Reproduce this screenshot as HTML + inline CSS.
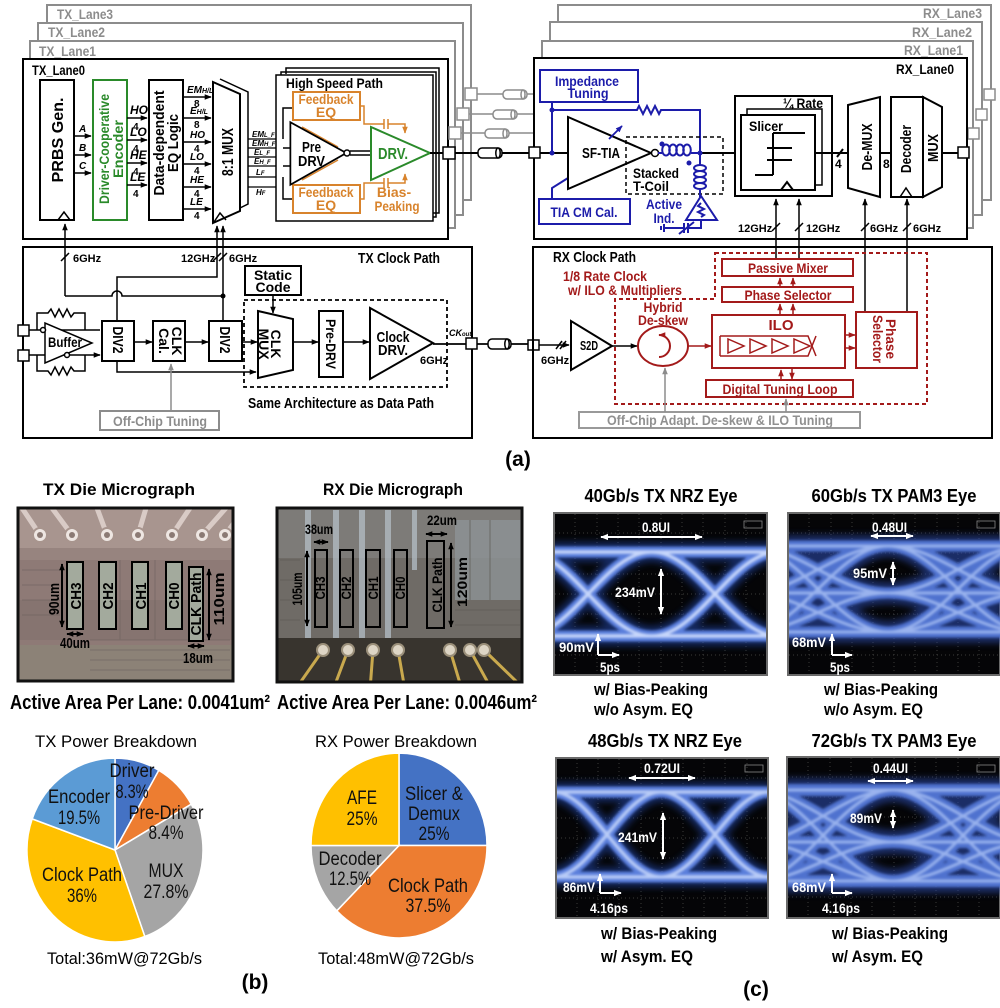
<!DOCTYPE html>
<html><head><meta charset="utf-8"><title>fig</title>
<style>
html,body{margin:0;padding:0;background:#fff;width:1000px;height:1008px;overflow:hidden}
svg{display:block}
text{font-family:"Liberation Sans",Arial,sans-serif;font-weight:bold}
.n,.n text{font-weight:normal}
.i{font-style:italic}
</style></head><body>
<svg width="1000" height="1008" viewBox="0 0 1000 1008" xmlns="http://www.w3.org/2000/svg" xmlns:xlink="http://www.w3.org/1999/xlink">
<defs>
<marker id="ak" viewBox="0 0 10 10" refX="9" refY="5" markerWidth="7" markerHeight="7" markerUnits="userSpaceOnUse" orient="auto-start-reverse"><path d="M0,1L10,5L0,9z" fill="#000"/></marker>
<marker id="ar" viewBox="0 0 10 10" refX="9" refY="5" markerWidth="7" markerHeight="7" markerUnits="userSpaceOnUse" orient="auto-start-reverse"><path d="M0,1L10,5L0,9z" fill="#a31a1a"/></marker>
<marker id="ag" viewBox="0 0 10 10" refX="9" refY="5" markerWidth="7" markerHeight="7" markerUnits="userSpaceOnUse" orient="auto-start-reverse"><path d="M0,1L10,5L0,9z" fill="#8c8c8c"/></marker>
<marker id="ab" viewBox="0 0 10 10" refX="9" refY="5" markerWidth="7" markerHeight="7" markerUnits="userSpaceOnUse" orient="auto-start-reverse"><path d="M0,1L10,5L0,9z" fill="#1c1caa"/></marker>
<marker id="ao" viewBox="0 0 10 10" refX="9" refY="5" markerWidth="7" markerHeight="7" markerUnits="userSpaceOnUse" orient="auto-start-reverse"><path d="M0,1L10,5L0,9z" fill="#d8832c"/></marker>
<marker id="aw" viewBox="0 0 10 10" refX="9" refY="5" markerWidth="8" markerHeight="8" markerUnits="userSpaceOnUse" orient="auto-start-reverse"><path d="M0,1L10,5L0,9z" fill="#fff"/></marker>
<filter id="b3" filterUnits="userSpaceOnUse" x="0" y="0" width="1000" height="1008"><feGaussianBlur stdDeviation="3.5"/></filter>
<filter id="b1" filterUnits="userSpaceOnUse" x="0" y="0" width="1000" height="1008"><feGaussianBlur stdDeviation="1.3"/></filter>
<clipPath id="ce1"><rect x="555" y="514" width="211" height="160"/></clipPath>
<clipPath id="ce2"><rect x="789" y="514" width="211" height="160"/></clipPath>
<clipPath id="ce3"><rect x="557" y="759" width="210" height="158"/></clipPath>
<clipPath id="ce4"><rect x="788" y="758" width="212" height="159"/></clipPath>
<clipPath id="ctx"><rect x="18" y="508" width="215" height="173"/></clipPath>
<clipPath id="crx"><rect x="277" y="508" width="245" height="174"/></clipPath>
<path id="p1" d="M550,552H770M550,636H770M525,552C571,552 605,636 651,636M525,636C571,636 605,552 651,552M652,552C698,552 732,636 778,636M652,636C698,636 732,552 778,552"/>
<path id="p3" d="M550,792H770M550,877H770M553,792C592,792 622,877 661,877M553,877C592,877 622,792 661,792M661,792C700,792 730,877 769,877M661,877C700,877 730,792 769,792"/>
<path id="p2" d="M785,546H1003M785,593H1003M785,632H1003M748,546C799,546 837,593 888,593M748,593C799,593 837,546 888,546M748,593C799,593 837,632 888,632M748,632C799,632 837,593 888,593M748,546C799,546 837,632 888,632M748,632C799,632 837,546 888,546M888,546C939,546 977,593 1028,593M888,593C939,593 977,546 1028,546M888,593C939,593 977,632 1028,632M888,632C939,632 977,593 1028,593M888,546C939,546 977,632 1028,632M888,632C939,632 977,546 1028,546"/>
<path id="p4" d="M785,790H1003M785,842H1003M785,881H1003M753,790C804,790 842,842 893,842M753,842C804,842 842,790 893,790M753,842C804,842 842,881 893,881M753,881C804,881 842,842 893,842M753,790C804,790 842,881 893,881M753,881C804,881 842,790 893,790M893,790C944,790 982,842 1033,842M893,842C944,842 982,790 1033,790M893,842C944,842 982,881 1033,881M893,881C944,881 982,842 1033,842M893,790C944,790 982,881 1033,881M893,881C944,881 982,790 1033,790"/>
</defs>

<!-- ================= TX LANES ================= -->
<g fill="none" stroke="#8c8c8c" stroke-width="2">
<path d="M47,24V5H471V200H463"/>
<path d="M38,42V23H463V215H455"/>
<path d="M30,59V41H455V228H448"/>
</g>
<g fill="#8c8c8c" font-size="14">
<text x="57" y="19" textLength="56" lengthAdjust="spacingAndGlyphs">TX_Lane3</text>
<text x="48" y="37" textLength="57" lengthAdjust="spacingAndGlyphs">TX_Lane2</text>
<text x="39" y="56" textLength="57" lengthAdjust="spacingAndGlyphs">TX_Lane1</text>
</g>
<rect x="23" y="59" width="425" height="180" fill="#fff" stroke="#000" stroke-width="2"/>
<text x="32" y="75" font-size="14" textLength="53" lengthAdjust="spacingAndGlyphs">TX_Lane0</text>

<!-- PRBS -->
<rect x="40" y="80" width="34" height="140" fill="#fff" stroke="#000" stroke-width="2"/>
<path d="M58,220L64,212L70,220" fill="none" stroke="#000" stroke-width="1.5"/>
<text transform="translate(63,140) rotate(-90)" text-anchor="middle" font-size="16" textLength="85" lengthAdjust="spacingAndGlyphs">PRBS Gen.</text>
<g stroke="#000" stroke-width="1.5" marker-end="url(#ak)"><path d="M74,136H91"/><path d="M74,155H91"/><path d="M74,173H91"/></g>
<g font-size="10" class="i"><text x="79" y="132">A</text><text x="79" y="151">B</text><text x="79" y="169">C</text></g>

<!-- Encoder -->
<rect x="93" y="80" width="34" height="140" fill="#fff" stroke="#2a8a2a" stroke-width="2"/>
<text transform="translate(109,149) rotate(-90)" text-anchor="middle" font-size="14" fill="#2a8a2a"><tspan x="0" y="0" textLength="110" lengthAdjust="spacingAndGlyphs">Driver-Cooperative</tspan><tspan x="0" y="14" textLength="58" lengthAdjust="spacingAndGlyphs">Encoder</tspan></text>
<g stroke="#000" stroke-width="1.5" marker-end="url(#ak)"><path d="M127,118H147"/><path d="M127,140H147"/><path d="M127,163H147"/><path d="M127,185H147"/></g>
<g font-size="12" class="i"><text x="130" y="114">HO</text><text x="130" y="136">LO</text><text x="130" y="159">HE</text><text x="130" y="181">LE</text></g>
<g font-size="10"><text x="133" y="130">4</text><text x="133" y="152">4</text><text x="133" y="175">4</text><text x="133" y="197">4</text></g>

<!-- EQ logic -->
<rect x="149" y="80" width="34" height="140" fill="#fff" stroke="#000" stroke-width="2"/>
<text transform="translate(164,143) rotate(-90)" text-anchor="middle" font-size="15"><tspan x="0" y="0" textLength="105" lengthAdjust="spacingAndGlyphs">Data-dependent</tspan><tspan x="0" y="14" textLength="58" lengthAdjust="spacingAndGlyphs">EQ Logic</tspan></text>
<g stroke="#000" stroke-width="1.5" marker-end="url(#ak)"><path d="M183,97H211"/><path d="M183,118H211"/><path d="M183,142H211"/><path d="M183,164H211"/><path d="M183,187H211"/><path d="M183,209H211"/></g>
<g font-size="10" class="i"><text x="187" y="93">EM<tspan font-size="7">H/L</tspan></text><text x="190" y="114">E<tspan font-size="7">H/L</tspan></text><text x="190" y="138">HO</text><text x="190" y="160">LO</text><text x="190" y="183">HE</text><text x="190" y="205">LE</text></g>
<g font-size="10"><text x="194" y="107">8</text><text x="194" y="128">8</text><text x="194" y="152">4</text><text x="194" y="174">4</text><text x="194" y="197">4</text><text x="194" y="219">4</text></g>

<!-- MUX -->
<path d="M220,79L248,92V204L240,208" fill="none" stroke="#000" stroke-width="1.5"/>
<polygon points="213,82 240,94 240,211 213,223" fill="#fff" stroke="#000" stroke-width="2"/>
<path d="M214,222L220,213L226,220" fill="none" stroke="#000" stroke-width="1.5"/>
<text transform="translate(233,152) rotate(-90)" text-anchor="middle" font-size="16" textLength="48" lengthAdjust="spacingAndGlyphs">8:1 MUX</text>
<g stroke="#000" stroke-width="1.3"><path d="M248,139H292"/><path d="M248,148H292"/><path d="M248,157H292"/><path d="M248,166H292"/><path d="M248,177H292"/><path d="M248,187H283"/></g>
<g font-size="8" class="i"><text x="252" y="137">EM<tspan font-size="6">L_F</tspan></text><text x="252" y="146">EM<tspan font-size="6">H_F</tspan></text><text x="254" y="155">E<tspan font-size="6">L_F</tspan></text><text x="254" y="164">E<tspan font-size="6">H_F</tspan></text><text x="256" y="175">L<tspan font-size="6">F</tspan></text><text x="256" y="195">H<tspan font-size="6">F</tspan></text></g>

<!-- High speed path -->
<path d="M286,74V68H439V213H433" fill="none" stroke="#000" stroke-width="1.5"/>
<path d="M281,75V72H436V217H433" fill="none" stroke="#000" stroke-width="1.5"/>
<rect x="276" y="75" width="157" height="146" fill="#fff" stroke="#000" stroke-width="1.5"/>
<text x="286" y="88" font-size="14" textLength="97" lengthAdjust="spacingAndGlyphs">High Speed Path</text>
<g stroke="#000" stroke-width="1.5" fill="none"><path d="M293,108H283V139"/><path d="M293,199H283V177"/><path d="M283,148H292M283,166H292"/></g>
<g fill="#fff" stroke="#d8832c" stroke-width="2"><rect x="293" y="92" width="67" height="28"/><rect x="293" y="185" width="67" height="28"/></g>
<g fill="#d8832c" font-size="14" text-anchor="middle"><text x="326" y="104" textLength="55" lengthAdjust="spacingAndGlyphs">Feedback</text><text x="326" y="117">EQ</text><text x="326" y="197" textLength="55" lengthAdjust="spacingAndGlyphs">Feedback</text><text x="326" y="210">EQ</text></g>
<g fill="none" stroke="#d8832c" stroke-width="1.5"><path d="M360,106H364V124H384M384,119V129M388,119V129M388,124H405V133" marker-end="url(#ao)"/><path d="M360,199H364V183H384M384,178V188M388,178V188M388,183H405V174" marker-end="url(#ao)"/><path d="M302,127L338,147M302,180L338,160"/></g>
<polygon points="292,125 292,182 343,153" fill="#fff" stroke="#000" stroke-width="5"/>
<polygon points="292,125 292,182 343,153" fill="#fff" stroke="#fff" stroke-width="1.5"/>
<circle cx="347" cy="153" r="3" fill="#fff" stroke="#000" stroke-width="1.5"/>
<g font-size="15"><text x="302" y="152" textLength="19" lengthAdjust="spacingAndGlyphs">Pre</text><text x="298" y="166" textLength="27" lengthAdjust="spacingAndGlyphs">DRV</text></g>
<path d="M350,151H371M350,155H371" stroke="#000" stroke-width="1.5"/>
<polygon points="371,127 371,180 430,153" fill="#fff" stroke="#2a8a2a" stroke-width="2"/>
<text x="378" y="159" font-size="16" fill="#2a8a2a" textLength="30" lengthAdjust="spacingAndGlyphs">DRV.</text>
<g fill="#d8832c" font-size="14" text-anchor="middle"><text x="394" y="197">Bias-</text><text x="397" y="211" textLength="45" lengthAdjust="spacingAndGlyphs">Peaking</text></g>

<!-- TX->RX data link -->
<path d="M430,153H443M455,153H529" stroke="#000" stroke-width="2"/>
<g stroke="#8c8c8c" stroke-width="1.5" fill="#fff">
<path d="M477,94H534M469,114H534M461,133H534" fill="none"/>
<rect x="465" y="88" width="12" height="12"/><rect x="457" y="108" width="12" height="12"/><rect x="449" y="127" width="12" height="12"/>
<rect x="503" y="90" width="24" height="9" rx="4"/><ellipse cx="523" cy="94.5" rx="2" ry="4.5"/>
<rect x="493" y="110" width="24" height="9" rx="4"/><ellipse cx="513" cy="114.5" rx="2" ry="4.5"/>
<rect x="485" y="129" width="24" height="9" rx="4"/><ellipse cx="505" cy="133.5" rx="2" ry="4.5"/>
</g>
<g stroke="#000" stroke-width="1.5" fill="#fff"><rect x="443" y="147" width="12" height="12"/><rect x="478" y="148" width="24" height="10" rx="4"/><ellipse cx="498" cy="153" rx="2.2" ry="5"/></g>

<!-- ================= TX CLOCK ================= -->
<rect x="23" y="247" width="449" height="191" fill="none" stroke="#000" stroke-width="2"/>
<text x="358" y="263" font-size="15" textLength="82" lengthAdjust="spacingAndGlyphs">TX Clock Path</text>
<g fill="none" stroke="#000" stroke-width="1.5">
<path d="M65,296V224" marker-end="url(#ak)"/>
<path d="M117,321V277H217V226" marker-end="url(#ak)"/>
<path d="M223,321V226" marker-end="url(#ak)"/>
<path d="M65,296H112A5,5 0 0 1 122,296H223"/>
<path d="M61,261L69,253M213,261L221,253M219,261L227,253"/>
</g>
<circle cx="223" cy="296" r="2.5"/>
<g font-size="11"><text x="73" y="262">6GHz</text><text x="181" y="262">12GHz</text><text x="229" y="262">6GHz</text></g>
<!-- buffer -->
<g fill="#fff" stroke="#000" stroke-width="1.5">
<path d="M29,330H100M29,355H100" fill="none" marker-end="url(#ak)"/>
<path d="M37,330V313H48l3,-4 4,8 4,-8 4,8 4,-8 4,8 3,-4H85V330" fill="none"/>
<path d="M37,355V371H48l3,4 4,-8 4,8 4,-8 4,8 4,-8 3,4H85V355" fill="none"/>
<rect x="18" y="325" width="11" height="11"/><rect x="18" y="350" width="11" height="11"/>
<polygon points="45,323 45,363 92,343"/>
<circle cx="43" cy="330" r="2.5"/><circle cx="67" cy="355" r="2.5"/>
</g>
<text x="48" y="347" font-size="14" textLength="34" lengthAdjust="spacingAndGlyphs">Buffer</text>
<!-- div / cal -->
<g fill="#fff" stroke="#000" stroke-width="2">
<rect x="102" y="321" width="32" height="40"/><rect x="153" y="321" width="32" height="40"/><rect x="209" y="321" width="33" height="40"/>
<rect x="245" y="266" width="56" height="29"/>
<polygon points="258,311 293,319 293,370 258,378"/>
<rect x="319" y="311" width="24" height="66"/>
<polygon points="370,308 370,379 433,343"/>
</g>
<g font-size="15">
<text transform="translate(113,340) rotate(90)" text-anchor="middle" textLength="27" lengthAdjust="spacingAndGlyphs">DIV2</text>
<text transform="translate(220,340) rotate(90)" text-anchor="middle" textLength="27" lengthAdjust="spacingAndGlyphs">DIV2</text>
<text transform="translate(172,341) rotate(90)" text-anchor="middle" font-size="14"><tspan x="0" y="0">CLK</tspan><tspan x="0" y="13">Cal.</tspan></text>
<text transform="translate(271,344) rotate(90)" text-anchor="middle" font-size="14"><tspan x="0" y="0">CLK</tspan><tspan x="0" y="12">MUX</tspan></text>
<text transform="translate(326,344) rotate(90)" text-anchor="middle" font-size="14" textLength="50" lengthAdjust="spacingAndGlyphs">Pre-DRV</text>
<text x="273" y="280" text-anchor="middle" font-size="14">Static</text><text x="273" y="292" text-anchor="middle" font-size="14">Code</text>
<text x="393" y="342" text-anchor="middle" textLength="33" lengthAdjust="spacingAndGlyphs">Clock</text><text x="393" y="355" text-anchor="middle" textLength="30" lengthAdjust="spacingAndGlyphs">DRV.</text>
</g>
<text x="420" y="364" font-size="11">6GHz</text>
<g fill="none" stroke="#000" stroke-width="1.5" marker-end="url(#ak)">
<path d="M134,342H152"/><path d="M185,342H208"/><path d="M242,342H257"/><path d="M293,342H318"/><path d="M343,342H369"/><path d="M273,295V313"/><path d="M117,361V372H256"/>
</g>
<rect x="244" y="300" width="203" height="87" fill="none" stroke="#000" stroke-width="1.8" stroke-dasharray="4,3"/>
<text x="341" y="408" text-anchor="middle" font-size="15" textLength="186" lengthAdjust="spacingAndGlyphs">Same Architecture as Data Path</text>
<rect x="100" y="411" width="119" height="19" fill="#fff" stroke="#8c8c8c" stroke-width="2"/>
<text x="160" y="426" text-anchor="middle" font-size="14" fill="#8c8c8c" textLength="94" lengthAdjust="spacingAndGlyphs">Off-Chip Tuning</text>
<path d="M171,411V364" stroke="#8c8c8c" stroke-width="1.5" marker-end="url(#ag)"/>
<!-- clock out -->
<text x="449" y="336" font-size="9" class="i">CK<tspan font-size="6">out</tspan></text>
<path d="M433,344H466M477,344H528" stroke="#000" stroke-width="1.8"/>
<g stroke="#000" stroke-width="1.5" fill="#fff"><rect x="466" y="338" width="11" height="11"/><rect x="488" y="339" width="23" height="10" rx="4"/><ellipse cx="507" cy="344" rx="2.2" ry="5"/><rect x="528" y="340" width="11" height="10"/></g>

<!-- ================= RX LANES ================= -->
<g fill="none" stroke="#8c8c8c" stroke-width="2">
<path d="M558,22V5H991V200H982"/>
<path d="M550,41V22H982V215H973"/>
<path d="M542,58V41H973V228H967"/>
</g>
<g fill="#8c8c8c" font-size="14" text-anchor="end">
<text x="982" y="18" textLength="59" lengthAdjust="spacingAndGlyphs">RX_Lane3</text>
<text x="972" y="37" textLength="60" lengthAdjust="spacingAndGlyphs">RX_Lane2</text>
<text x="963" y="55" textLength="59" lengthAdjust="spacingAndGlyphs">RX_Lane1</text>
</g>
<g fill="#fff" stroke="#8c8c8c" stroke-width="1.5"><rect x="984" y="89" width="11" height="11"/><rect x="976" y="109" width="11" height="11"/><rect x="968" y="128" width="11" height="11"/></g>
<rect x="534" y="58" width="433" height="181" fill="#fff" stroke="#000" stroke-width="2"/>
<text x="954" y="74" font-size="14" text-anchor="end" textLength="58" lengthAdjust="spacingAndGlyphs">RX_Lane0</text>
<rect x="529" y="147" width="11" height="11" fill="#fff" stroke="#000" stroke-width="1.5"/>
<path d="M540,153H568" stroke="#000" stroke-width="2"/>
<!-- impedance / TIA -->
<g fill="none" stroke="#1c1caa" stroke-width="2">
<rect x="540" y="70" width="98" height="32" fill="#fff"/>
<rect x="539" y="199" width="91" height="25" fill="#fff"/>
<path d="M552,102V153"/>
<path d="M552,110H637l2,-4 4,8 4,-8 4,8 4,-8 4,8 2,-4H700V153"/>
<path d="M552,199V188L568,178"/>
</g>
<circle cx="552" cy="110" r="2.5" fill="#1c1caa"/><circle cx="552" cy="153" r="2.5" fill="#1c1caa"/>
<g fill="#1c1caa" font-size="14" text-anchor="middle"><text x="587" y="86" textLength="64" lengthAdjust="spacingAndGlyphs">Impedance</text><text x="588" y="98" textLength="41" lengthAdjust="spacingAndGlyphs">Tuning</text><text x="584" y="217" textLength="67" lengthAdjust="spacingAndGlyphs">TIA CM Cal.</text></g>
<polygon points="568,117 568,189 651,153" fill="#fff" stroke="#000" stroke-width="2"/>
<circle cx="655" cy="153" r="3.5" fill="#fff" stroke="#000" stroke-width="1.5"/>
<text x="582" y="158" font-size="15" textLength="38" lengthAdjust="spacingAndGlyphs">SF-TIA</text>
<path d="M609,139L622,126" stroke="#1c1caa" stroke-width="1.8" marker-end="url(#ab)"/>
<!-- t-coil -->
<rect x="626" y="137" width="97" height="57" fill="none" stroke="#000" stroke-width="1.5" stroke-dasharray="4,3"/>
<g fill="none" stroke="#1c1caa" stroke-width="2">
<path d="M658,153H662M691,153H735"/>
<ellipse cx="666" cy="150" rx="3.8" ry="5.5"/><ellipse cx="673" cy="150" rx="3.8" ry="5.5"/><ellipse cx="680" cy="150" rx="3.8" ry="5.5"/><ellipse cx="687" cy="150" rx="3.8" ry="5.5"/>
<path d="M700,153V165M700,190V197"/>
<ellipse cx="700" cy="168" rx="6" ry="3"/><ellipse cx="700" cy="174" rx="6" ry="3"/><ellipse cx="700" cy="180" rx="6" ry="3"/><ellipse cx="700" cy="186" rx="6" ry="3"/>
<polygon points="701,196 686,220 717,220"/>
<path d="M701,203l-3,3 6,3 -6,3 6,3 -3,2"/>
<path d="M664,228H684M684,223V233M688,223V233M688,228H701V220M679,234L694,222M664,224V232M661,226V230"/>
</g>
<path d="M700,153H735" stroke="#000" stroke-width="2"/>
<circle cx="700" cy="153" r="2.5" fill="#1c1caa"/><circle cx="662" cy="144" r="2.5" fill="#1c1caa"/><circle cx="689" cy="163" r="2.5" fill="#1c1caa"/>
<g font-size="14"><text x="633" y="178" textLength="46" lengthAdjust="spacingAndGlyphs">Stacked</text><text x="633" y="191" textLength="36" lengthAdjust="spacingAndGlyphs">T-Coil</text></g>
<g fill="#1c1caa" font-size="14" text-anchor="middle"><text x="664" y="209" textLength="36" lengthAdjust="spacingAndGlyphs">Active</text><text x="664" y="223" textLength="21" lengthAdjust="spacingAndGlyphs">Ind.</text></g>
<!-- slicer -->
<rect x="735" y="96" width="97" height="100" fill="#fff" stroke="#000" stroke-width="2"/>
<rect x="747" y="109" width="75" height="76" fill="#fff" stroke="#000" stroke-width="1.5"/>
<rect x="741" y="115" width="74" height="75" fill="#fff" stroke="#000" stroke-width="2"/>
<text x="783" y="108" font-size="14" textLength="40" lengthAdjust="spacingAndGlyphs">¼ Rate</text>
<text x="749" y="131" font-size="14" textLength="34" lengthAdjust="spacingAndGlyphs">Slicer</text>
<path d="M773,133V175M773,133H805M767,148H792M767,160H792M755,175H773M781,190L787,182L793,190" fill="none" stroke="#000" stroke-width="2"/>
<path d="M815,153H848M880,153H891M942,153H958M837,157L843,149" stroke="#000" stroke-width="2" fill="none"/>
<g font-size="12"><text x="835" y="168">4</text><text x="883" y="168">8</text></g>
<g fill="#fff" stroke="#000" stroke-width="2">
<polygon points="848,105 880,97 880,197 848,188"/>
<rect x="891" y="97" width="32" height="100"/>
<polygon points="923,97 942,107 942,187 923,197"/>
</g>
<path d="M900,197L906,188L912,197" fill="none" stroke="#000" stroke-width="1.5"/>
<rect x="958" y="147" width="11" height="11" fill="#fff" stroke="#000" stroke-width="1.5"/>
<g font-size="15" text-anchor="middle">
<text transform="translate(872,147) rotate(-90)" textLength="47" lengthAdjust="spacingAndGlyphs">De-MUX</text>
<text transform="translate(911,149) rotate(-90)" textLength="48" lengthAdjust="spacingAndGlyphs">Decoder</text>
<text transform="translate(938,148) rotate(-90)" textLength="28" lengthAdjust="spacingAndGlyphs">MUX</text>
</g>
<!-- RX clock lines up -->
<g fill="none" stroke="#000" stroke-width="1.5">
<path d="M776,259V199" marker-end="url(#ak)"/><path d="M799,259V199" marker-end="url(#ak)"/>
<path d="M865,311V199" marker-end="url(#ak)"/><path d="M907,311V199" marker-end="url(#ak)"/>
<path d="M772,231L780,223M795,231L803,223M861,231L869,223M903,231L911,223"/>
</g>
<g font-size="11"><text x="738" y="232">12GHz</text><text x="806" y="232">12GHz</text><text x="870" y="232">6GHz</text><text x="913" y="232">6GHz</text></g>

<!-- ================= RX CLOCK ================= -->
<rect x="533" y="247" width="459" height="191" fill="none" stroke="#000" stroke-width="2"/>
<text x="553" y="262" font-size="15" textLength="83" lengthAdjust="spacingAndGlyphs">RX Clock Path</text>
<g fill="#a31a1a" font-size="14"><text x="563" y="281" textLength="84" lengthAdjust="spacingAndGlyphs">1/8 Rate Clock</text><text x="568" y="295" textLength="114" lengthAdjust="spacingAndGlyphs">w/ ILO &amp; Multipliers</text></g>
<path d="M715,253H927V404H615V299H715Z" fill="none" stroke="#a31a1a" stroke-width="2" stroke-dasharray="4,3"/>
<g fill="#fff" stroke="#a31a1a" stroke-width="2">
<rect x="722" y="259" width="131" height="17"/>
<rect x="722" y="287" width="131" height="15"/>
<rect x="712" y="315" width="133" height="53"/>
<rect x="856" y="312" width="61" height="56"/>
<rect x="706" y="380" width="147" height="17"/>
<ellipse cx="663" cy="346" rx="25" ry="20"/>
</g>
<g fill="#a31a1a" font-size="14" text-anchor="middle">
<text x="788" y="273" textLength="80" lengthAdjust="spacingAndGlyphs">Passive Mixer</text>
<text x="788" y="300" textLength="87" lengthAdjust="spacingAndGlyphs">Phase Selector</text>
<text x="781" y="330" font-size="15">ILO</text>
<text x="780" y="394" textLength="115" lengthAdjust="spacingAndGlyphs">Digital Tuning Loop</text>
<text x="663" y="312" textLength="39" lengthAdjust="spacingAndGlyphs">Hybrid</text>
<text x="663" y="325" textLength="50" lengthAdjust="spacingAndGlyphs">De-skew</text>
<text transform="translate(886,339) rotate(90)"><tspan x="0" y="0" textLength="40" lengthAdjust="spacingAndGlyphs">Phase</tspan><tspan x="0" y="13" textLength="48" lengthAdjust="spacingAndGlyphs">Selector</tspan></text>
</g>
<g fill="none" stroke="#a31a1a" stroke-width="1.5">
<path d="M780,287V278" marker-end="url(#ar)"/><path d="M793,287V278" marker-end="url(#ar)"/>
<path d="M780,315V304" marker-end="url(#ar)"/><path d="M793,315V304" marker-end="url(#ar)"/>
<path d="M845,335H855" marker-end="url(#ar)"/><path d="M845,348H855" marker-end="url(#ar)"/>
<path d="M781,380V370" marker-end="url(#ar)"/><path d="M792,369V379" marker-end="url(#ar)"/>
<path d="M688,346H711" marker-end="url(#ar)"/>
<path d="M659,357A11,11 0 1 0 659,335" marker-end="url(#ar)" stroke-width="2"/>
<path d="M720,336H808L816,356M720,356H808L816,336M720,336V356"/>
<path d="M728,339V353L744,346ZM750,339V353L766,346ZM772,339V353L788,346ZM794,339V353L810,346Z" fill="#fff"/>
</g>
<rect x="579" y="412" width="281" height="16" fill="#fff" stroke="#999" stroke-width="2"/>
<text x="720" y="425" text-anchor="middle" font-size="14" fill="#909090" textLength="226" lengthAdjust="spacingAndGlyphs">Off-Chip Adapt. De-skew &amp; ILO Tuning</text>
<g stroke="#8c8c8c" stroke-width="1.5"><path d="M665,412V368" marker-end="url(#ag)"/><path d="M786,412V399" marker-end="url(#ag)"/></g>
<g fill="none" stroke="#000" stroke-width="1.5">
<path d="M539,345H569" marker-end="url(#ak)"/><path d="M556,349L562,341M560,349L566,341"/>
<polygon points="571,321 571,370 612,346" fill="#fff" stroke-width="2"/>
<path d="M612,346H637" marker-end="url(#ak)"/>
</g>
<text x="589" y="350" text-anchor="middle" font-size="13" textLength="18" lengthAdjust="spacingAndGlyphs">S2D</text>
<text x="541" y="364" font-size="11">6GHz</text>
<text x="518" y="466" text-anchor="middle" font-size="21">(a)</text>

<!-- ================= PANEL B ================= -->
<text x="119" y="495" text-anchor="middle" font-size="17" textLength="152" lengthAdjust="spacingAndGlyphs">TX Die Micrograph</text>
<text x="393" y="495" text-anchor="middle" font-size="17" textLength="140" lengthAdjust="spacingAndGlyphs">RX Die Micrograph</text>
<!-- TX photo -->
<g clip-path="url(#ctx)">
<rect x="18" y="508" width="215" height="173" fill="#8e7a76"/>
<rect x="18" y="508" width="215" height="40" fill="#a8958f"/>
<rect x="18" y="548" width="215" height="12" fill="#97847f"/>
<rect x="18" y="600" width="215" height="40" fill="#80706d" opacity="0.6"/>
<rect x="18" y="645" width="215" height="36" fill="#8c8578" opacity="0.8"/>
<g stroke="#6e625f" stroke-width="1" opacity="0.6"><path d="M22,570H60M22,585H60M22,600H60M22,615H60M90,640H230M90,650H230M90,660H230M90,670H230M120,560V640M155,560V640"/></g>
<g stroke="#d9cbc6" stroke-width="5" stroke-linecap="round"><path d="M40,535L22,508M72,535L52,508M107,535L97,508M138,535L146,508M172,535L190,508M202,535L226,508M225,535L240,515"/></g>
<g fill="#eee6e2" stroke="#a8958e" stroke-width="2"><circle cx="40" cy="535" r="7"/><circle cx="72" cy="535" r="7"/><circle cx="107" cy="535" r="7"/><circle cx="138" cy="535" r="7"/><circle cx="172" cy="535" r="7"/><circle cx="202" cy="535" r="7"/><circle cx="225" cy="535" r="7"/></g>
<g fill="#8b7a74"><circle cx="40" cy="535" r="3"/><circle cx="72" cy="535" r="3"/><circle cx="107" cy="535" r="3"/><circle cx="138" cy="535" r="3"/><circle cx="172" cy="535" r="3"/><circle cx="202" cy="535" r="3"/><circle cx="225" cy="535" r="3"/></g>
</g>
<rect x="18" y="508" width="215" height="173" fill="none" stroke="#111" stroke-width="3"/>
<g fill="#a3aa9d" stroke="#000" stroke-width="2">
<rect x="67" y="562" width="16" height="67"/><rect x="99" y="562" width="17" height="67"/><rect x="132" y="562" width="16" height="67"/><rect x="166" y="562" width="16" height="67"/><rect x="189" y="567" width="14" height="74"/>
</g>
<g font-size="15" text-anchor="middle">
<text transform="translate(81,596) rotate(-90)" textLength="27" lengthAdjust="spacingAndGlyphs">CH3</text>
<text transform="translate(113,596) rotate(-90)" textLength="27" lengthAdjust="spacingAndGlyphs">CH2</text>
<text transform="translate(146,596) rotate(-90)" textLength="27" lengthAdjust="spacingAndGlyphs">CH1</text>
<text transform="translate(179,596) rotate(-90)" textLength="27" lengthAdjust="spacingAndGlyphs">CH0</text>
<text transform="translate(201,604) rotate(-90)" textLength="63" lengthAdjust="spacingAndGlyphs">CLK Path</text>
<text transform="translate(59,599) rotate(-90)" textLength="32" lengthAdjust="spacingAndGlyphs">90um</text>
<text transform="translate(224,599) rotate(-90)" textLength="53" lengthAdjust="spacingAndGlyphs">110um</text>
<text x="75" y="648" textLength="30" lengthAdjust="spacingAndGlyphs">40um</text>
<text x="198" y="663" textLength="30" lengthAdjust="spacingAndGlyphs">18um</text>
</g>
<g fill="none" stroke="#000" stroke-width="2" marker-end="url(#ak)" marker-start="url(#ak)">
<path d="M62,564V627"/><path d="M209,569V640"/><path d="M67,634H83"/><path d="M188,646H204"/>
</g>
<!-- RX photo -->
<g clip-path="url(#crx)">
<rect x="277" y="508" width="245" height="174" fill="#6f6b66"/>
<rect x="277" y="508" width="245" height="50" fill="#7d7b78"/>
<g fill="#b4bec6" opacity="0.75"><rect x="305" y="510" width="6" height="128"/><rect x="333" y="510" width="6" height="128"/><rect x="359" y="510" width="6" height="128"/><rect x="385" y="510" width="6" height="128"/><rect x="412" y="510" width="5" height="60"/></g>
<rect x="455" y="520" width="67" height="80" fill="#8d9396" opacity="0.8"/>
<g stroke="#5e5a55" stroke-width="1" opacity="0.7"><path d="M280,560H300M280,580H300M280,600H300M280,620H300M455,610H520M455,625H520M470,520V600M490,520V600"/></g>
<rect x="277" y="638" width="245" height="44" fill="#38342e"/>
<g stroke="#c9a94e" stroke-width="3" stroke-linecap="round"><path d="M323,650L295,690M348,650L333,690M373,650L370,690M398,650L405,690M450,650L462,690M470,650L492,690M484,650L520,685"/></g>
<g fill="#ddd5c5" stroke="#9a8f7a" stroke-width="2"><circle cx="323" cy="650" r="6"/><circle cx="348" cy="650" r="6"/><circle cx="373" cy="650" r="6"/><circle cx="398" cy="650" r="6"/><circle cx="450" cy="650" r="6"/><circle cx="470" cy="650" r="6"/><circle cx="484" cy="650" r="6"/></g>
</g>
<rect x="277" y="508" width="245" height="174" fill="none" stroke="#111" stroke-width="3"/>
<g fill="none" stroke="#000" stroke-width="2">
<rect x="315" y="550" width="12" height="77"/><rect x="340" y="550" width="13" height="77"/><rect x="366" y="550" width="14" height="77"/><rect x="394" y="550" width="13" height="77"/><rect x="427" y="541" width="17" height="87"/>
</g>
<g font-size="14" text-anchor="middle">
<text transform="translate(325,588) rotate(-90)" textLength="23" lengthAdjust="spacingAndGlyphs">CH3</text>
<text transform="translate(351,588) rotate(-90)" textLength="23" lengthAdjust="spacingAndGlyphs">CH2</text>
<text transform="translate(378,588) rotate(-90)" textLength="23" lengthAdjust="spacingAndGlyphs">CH1</text>
<text transform="translate(405,588) rotate(-90)" textLength="23" lengthAdjust="spacingAndGlyphs">CH0</text>
<text transform="translate(442,585) rotate(-90)" textLength="55" lengthAdjust="spacingAndGlyphs">CLK Path</text>
<text transform="translate(302,589) rotate(-90)" textLength="33" lengthAdjust="spacingAndGlyphs">105um</text>
<text transform="translate(467,582) rotate(-90)" textLength="50" lengthAdjust="spacingAndGlyphs">120um</text>
<text x="319" y="534" textLength="28" lengthAdjust="spacingAndGlyphs">38um</text>
<text x="442" y="525" textLength="30" lengthAdjust="spacingAndGlyphs">22um</text>
</g>
<g fill="none" stroke="#000" stroke-width="2" marker-end="url(#ak)" marker-start="url(#ak)">
<path d="M307,551V626"/><path d="M451,543V627"/><path d="M314,542H328"/><path d="M426,534H447"/>
</g>
<text x="10" y="709" font-size="20" textLength="260" lengthAdjust="spacingAndGlyphs">Active Area Per Lane: 0.0041um²</text>
<text x="277" y="709" font-size="20" textLength="260" lengthAdjust="spacingAndGlyphs">Active Area Per Lane: 0.0046um²</text>

<!-- pies -->
<text x="116" y="747" text-anchor="middle" font-size="17" class="n" textLength="162" lengthAdjust="spacingAndGlyphs">TX Power Breakdown</text>
<text x="396" y="747" text-anchor="middle" font-size="17" class="n" textLength="162" lengthAdjust="spacingAndGlyphs">RX Power Breakdown</text>
<g transform="translate(115,850) scale(1,1.045)" stroke="#fff" stroke-width="1.5">
<path d="M0,0L0,-88A88,88 0 0 1 43.84,-76.30Z" fill="#4472c4"/>
<path d="M0,0L43.84,-76.30A88,88 0 0 1 76.30,-43.84Z" fill="#ed7d31"/>
<path d="M0,0L76.30,-43.84A88,88 0 0 1 29.81,82.80Z" fill="#a5a5a5"/>
<path d="M0,0L29.81,82.80A88,88 0 0 1 -82.80,-29.81Z" fill="#ffc000"/>
<path d="M0,0L-82.80,-29.81A88,88 0 0 1 0,-88Z" fill="#5b9bd5"/>
</g>
<g transform="translate(399,845.5) scale(1,1.05)" stroke="#fff" stroke-width="1.5">
<path d="M0,0L0,-88A88,88 0 0 1 88,0Z" fill="#4472c4"/>
<path d="M0,0L88,0A88,88 0 0 1 -62.23,62.23Z" fill="#ed7d31"/>
<path d="M0,0L-62.23,62.23A88,88 0 0 1 -88,0Z" fill="#a5a5a5"/>
<path d="M0,0L-88,0A88,88 0 0 1 0,-88Z" fill="#ffc000"/>
</g>
<g font-size="19" class="n" text-anchor="middle" fill="#111">
<text x="132" y="777" textLength="45" lengthAdjust="spacingAndGlyphs">Driver</text>
<text x="132" y="798" textLength="33" lengthAdjust="spacingAndGlyphs">8.3%</text>
<text x="79" y="803" textLength="62" lengthAdjust="spacingAndGlyphs">Encoder</text>
<text x="79" y="824" textLength="42" lengthAdjust="spacingAndGlyphs">19.5%</text>
<text x="166" y="819" textLength="75" lengthAdjust="spacingAndGlyphs">Pre-Driver</text>
<text x="166" y="839" textLength="35" lengthAdjust="spacingAndGlyphs">8.4%</text>
<text x="166" y="877" textLength="35" lengthAdjust="spacingAndGlyphs">MUX</text>
<text x="166" y="898" textLength="45" lengthAdjust="spacingAndGlyphs">27.8%</text>
<text x="82" y="881" textLength="80" lengthAdjust="spacingAndGlyphs">Clock Path</text>
<text x="82" y="902" textLength="30" lengthAdjust="spacingAndGlyphs">36%</text>
<text x="362" y="804" textLength="30" lengthAdjust="spacingAndGlyphs">AFE</text>
<text x="362" y="825" textLength="31" lengthAdjust="spacingAndGlyphs">25%</text>
<text x="434" y="800" textLength="58" lengthAdjust="spacingAndGlyphs">Slicer &amp;</text>
<text x="434" y="820" textLength="52" lengthAdjust="spacingAndGlyphs">Demux</text>
<text x="434" y="840" textLength="31" lengthAdjust="spacingAndGlyphs">25%</text>
<text x="350" y="865" textLength="63" lengthAdjust="spacingAndGlyphs">Decoder</text>
<text x="350" y="885" textLength="42" lengthAdjust="spacingAndGlyphs">12.5%</text>
<text x="428" y="892" textLength="80" lengthAdjust="spacingAndGlyphs">Clock Path</text>
<text x="428" y="912" textLength="45" lengthAdjust="spacingAndGlyphs">37.5%</text>
</g>
<text x="47" y="964" font-size="17" class="n" textLength="155" lengthAdjust="spacingAndGlyphs">Total:36mW@72Gb/s</text>
<text x="318" y="964" font-size="17" class="n" textLength="156" lengthAdjust="spacingAndGlyphs">Total:48mW@72Gb/s</text>
<text x="255" y="989" text-anchor="middle" font-size="21">(b)</text>

<!-- ================= PANEL C ================= -->
<g font-size="18" text-anchor="middle">
<text x="661" y="502" textLength="153" lengthAdjust="spacingAndGlyphs">40Gb/s TX NRZ Eye</text>
<text x="894" y="502" textLength="165" lengthAdjust="spacingAndGlyphs">60Gb/s TX PAM3 Eye</text>
<text x="665" y="747" textLength="154" lengthAdjust="spacingAndGlyphs">48Gb/s TX NRZ Eye</text>
<text x="894" y="747" textLength="165" lengthAdjust="spacingAndGlyphs">72Gb/s TX PAM3 Eye</text>
</g>
<!-- eye boxes -->
<g fill="#050507" stroke="#6a6a6a" stroke-width="2">
<rect x="554" y="513" width="213" height="162"/>
<rect x="788" y="513" width="212" height="162"/>
<rect x="556" y="758" width="212" height="160"/>
<rect x="787" y="757" width="213" height="161"/>
</g>
<g stroke="#3a3a3a" stroke-width="1" stroke-dasharray="1,3" fill="none">
<path d="M575,514V674M597,514V674M618,514V674M639,514V674M661,514V674M682,514V674M703,514V674M725,514V674M746,514V674M555,533H766M555,553H766M555,574H766M555,594H766M555,614H766M555,634H766M555,655H766"/>
<path d="M809,514V674M831,514V674M852,514V674M873,514V674M894,514V674M915,514V674M937,514V674M958,514V674M979,514V674M789,533H999M789,553H999M789,574H999M789,594H999M789,614H999M789,634H999M789,655H999"/>
<path d="M577,759V917M598,759V917M619,759V917M641,759V917M662,759V917M683,759V917M704,759V917M725,759V917M747,759V917M557,778H767M557,798H767M557,818H767M557,838H767M557,858H767M557,878H767M557,898H767"/>
<path d="M808,758V917M830,758V917M851,758V917M872,758V917M894,758V917M915,758V917M936,758V917M958,758V917M979,758V917M788,777H999M788,797H999M788,817H999M788,837H999M788,857H999M788,877H999M788,897H999"/>
</g>
<!-- traces -->
<g clip-path="url(#ce1)" fill="none">
<use xlink:href="#p1" stroke="#2447a8" stroke-width="20" opacity="0.55" filter="url(#b3)"/>
<use xlink:href="#p1" stroke="#5a7edb" stroke-width="11" filter="url(#b1)"/>
<use xlink:href="#p1" stroke="#c6d6fb" stroke-width="3.5" filter="url(#b1)"/>
</g>
<g clip-path="url(#ce3)" fill="none">
<use xlink:href="#p3" stroke="#2447a8" stroke-width="20" opacity="0.55" filter="url(#b3)"/>
<use xlink:href="#p3" stroke="#5a7edb" stroke-width="11" filter="url(#b1)"/>
<use xlink:href="#p3" stroke="#b8cbf7" stroke-width="3.5" filter="url(#b1)"/>
</g>
<g clip-path="url(#ce2)" fill="none">
<use xlink:href="#p2" stroke="#2a48a6" stroke-width="22" opacity="0.6" filter="url(#b3)"/>
<use xlink:href="#p2" stroke="#4f72cf" stroke-width="11" filter="url(#b1)"/>
<use xlink:href="#p2" stroke="#9ab3ee" stroke-width="3" filter="url(#b1)"/>
</g>
<g clip-path="url(#ce4)" fill="none">
<use xlink:href="#p4" stroke="#2a48a6" stroke-width="24" opacity="0.6" filter="url(#b3)"/>
<use xlink:href="#p4" stroke="#4f72cf" stroke-width="12" filter="url(#b1)"/>
<use xlink:href="#p4" stroke="#9ab3ee" stroke-width="3" filter="url(#b1)"/>
</g>
<g fill="none" stroke="#888" stroke-width="0.8"><rect x="744" y="521" width="18" height="7"/><rect x="977" y="521" width="18" height="7"/><rect x="745" y="765" width="18" height="7"/><rect x="977" y="765" width="18" height="7"/></g>
<!-- eye annotations -->
<g fill="none" stroke="#fff" stroke-width="2" marker-end="url(#aw)" marker-start="url(#aw)">
<path d="M601,537H702"/><path d="M661,569V614"/>
<path d="M871,536H913"/><path d="M893,562V585"/>
<path d="M629,778H695"/><path d="M663,813V859"/>
<path d="M868,781H913"/><path d="M893,810V828"/>
</g>
<g fill="none" stroke="#fff" stroke-width="2" marker-end="url(#aw)">
<path d="M598,655V634"/><path d="M598,655H619"/>
<path d="M832,655V634"/><path d="M832,655H852"/>
<path d="M600,893V874"/><path d="M600,893H621"/>
<path d="M832,893V874"/><path d="M832,893H852"/>
</g>
<g fill="#fff" font-size="14">
<text x="642" y="532" textLength="28" lengthAdjust="spacingAndGlyphs">0.8UI</text>
<text x="615" y="597" textLength="40" lengthAdjust="spacingAndGlyphs">234mV</text>
<text x="559" y="652" textLength="35" lengthAdjust="spacingAndGlyphs">90mV</text>
<text x="600" y="672" textLength="20" lengthAdjust="spacingAndGlyphs">5ps</text>
<text x="872" y="532" textLength="35" lengthAdjust="spacingAndGlyphs">0.48UI</text>
<text x="853" y="578" textLength="34" lengthAdjust="spacingAndGlyphs">95mV</text>
<text x="792" y="647" textLength="34" lengthAdjust="spacingAndGlyphs">68mV</text>
<text x="830" y="672" textLength="20" lengthAdjust="spacingAndGlyphs">5ps</text>
<text x="644" y="773" textLength="36" lengthAdjust="spacingAndGlyphs">0.72UI</text>
<text x="618" y="842" textLength="39" lengthAdjust="spacingAndGlyphs">241mV</text>
<text x="563" y="892" textLength="32" lengthAdjust="spacingAndGlyphs">86mV</text>
<text x="590" y="913" textLength="38" lengthAdjust="spacingAndGlyphs">4.16ps</text>
<text x="873" y="773" textLength="35" lengthAdjust="spacingAndGlyphs">0.44UI</text>
<text x="850" y="823" textLength="32" lengthAdjust="spacingAndGlyphs">89mV</text>
<text x="792" y="892" textLength="34" lengthAdjust="spacingAndGlyphs">68mV</text>
<text x="822" y="913" textLength="38" lengthAdjust="spacingAndGlyphs">4.16ps</text>
</g>
<g font-size="17">
<text x="594" y="695" textLength="114" lengthAdjust="spacingAndGlyphs">w/ Bias-Peaking</text>
<text x="594" y="715" textLength="99" lengthAdjust="spacingAndGlyphs">w/o Asym. EQ</text>
<text x="824" y="695" textLength="114" lengthAdjust="spacingAndGlyphs">w/ Bias-Peaking</text>
<text x="824" y="715" textLength="99" lengthAdjust="spacingAndGlyphs">w/o Asym. EQ</text>
<text x="601" y="939" textLength="116" lengthAdjust="spacingAndGlyphs">w/ Bias-Peaking</text>
<text x="601" y="962" textLength="92" lengthAdjust="spacingAndGlyphs">w/ Asym. EQ</text>
<text x="832" y="939" textLength="116" lengthAdjust="spacingAndGlyphs">w/ Bias-Peaking</text>
<text x="832" y="962" textLength="91" lengthAdjust="spacingAndGlyphs">w/ Asym. EQ</text>
</g>
<text x="756" y="996" text-anchor="middle" font-size="21">(c)</text>
</svg>
</body></html>
